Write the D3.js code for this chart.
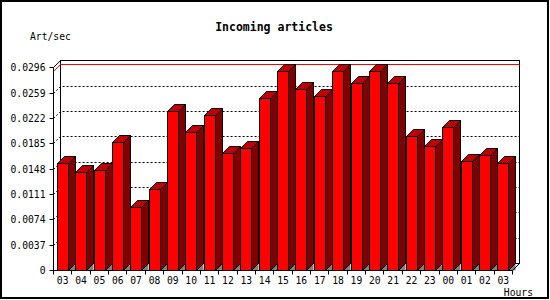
<!DOCTYPE html>
<html><head><meta charset="utf-8">
<script src="https://cdn.jsdelivr.net/npm/d3@7"></script>
<style>body{margin:0;background:#fff;} svg{display:block;}</style>
</head><body>
<svg id="c" width="550" height="300"></svg>
<script>
const hours = ["03","04","05","06","07","08","09","10","11","12","13","14","15","16","17","18","19","20","21","22","23","00","01","02","03"];
const values = [0.0156,0.0143,0.0146,0.0187,0.0092,0.0119,0.0232,0.0201,0.0226,0.0171,0.0178,0.0251,0.0291,0.0264,0.0254,0.0291,0.0273,0.0291,0.0273,0.0195,0.0181,0.0209,0.0159,0.0168,0.0156];
const yTickValues = [0,0.0037,0.0074,0.0111,0.0148,0.0185,0.0222,0.0259,0.0296];
const yTickLabels = ["0","0.0037","0.0074","0.0111","0.0148","0.0185","0.0222","0.0259","0.0296"];
const title = "Incoming articles";
const yTitle = "Art/sec";
const xTitle = "Hours";

const svg = d3.select("#c");
const mono = "'DejaVu Sans Mono', 'Liberation Mono', monospace";
const DX = 7, DY = 7;
const y = d3.scaleLinear().domain([0, 0.0296]).range([270, 67.3]);
const x = d3.scaleBand().domain(d3.range(hours.length)).range([53.5, 512.5]).padding(0);
const py = v => Math.round(y(v)) + 0.5;
const leftX = 53.5, rightX = 512.5, baseY = py(0), topY = py(0.0296);

// outer frame
svg.append("rect").attr("x",1).attr("y",1).attr("width",547).attr("height",297)
  .attr("fill","#fff").attr("stroke","#000").attr("stroke-width",2);

// back wall
svg.append("rect").attr("x",leftX+DX).attr("y",topY-DY).attr("width",rightX-leftX)
  .attr("height",baseY-topY).attr("fill","#fff").attr("stroke","#000");

// dotted grid
const grid = svg.append("g").attr("stroke","#000").attr("stroke-dasharray","2,2").attr("fill","none");
yTickValues.slice(1,-1).forEach(v=>{
  const fy = py(v);
  grid.append("path").attr("d",`M${leftX},${fy}L${leftX+DX},${fy-DY}L${rightX+DX},${fy-DY}`);
});

// max line
const mx = py(d3.max(values));
svg.append("path").attr("d",`M${leftX},${mx}L${leftX+DX},${mx-DY}L${rightX+DX},${mx-DY}`)
  .attr("stroke","#f00").attr("fill","none");

// bars
const bars = svg.append("g").attr("stroke","#000").attr("stroke-width",1);
values.forEach((v,i)=>{
  const x0 = Math.round(x(i)+3.3)+0.5, x1 = x0+11;
  const yf = py(v);
  const g = bars.append("g");
  g.append("path").attr("d",`M${x1},${baseY}L${x1+DX},${baseY-DY}L${x1+DX},${baseY}Z`).attr("fill","#808080").attr("stroke","none");
  g.append("path").attr("d",`M${x1},${yf}L${x1+DX},${yf-DY}L${x1+DX},${baseY-DY}L${x1},${baseY}Z`).attr("fill","#800000");
  g.append("path").attr("d",`M${x0},${yf}L${x0+DX},${yf-DY}L${x1+DX},${yf-DY}L${x1},${yf}Z`).attr("fill","#c00000");
  g.append("rect").attr("x",x0).attr("y",yf).attr("width",x1-x0).attr("height",baseY-yf).attr("fill","#f00");
});

// front axis lines
svg.append("path").attr("d",`M${leftX+DX},${topY-DY}L${leftX},${topY}L${leftX},${baseY}L${rightX},${baseY}L${rightX+DX},${baseY-DY}`)
  .attr("stroke","#000").attr("fill","none");

// y axis ticks/labels
const yAxis = d3.axisLeft(y).tickValues(yTickValues).tickSize(4).tickSizeOuter(0).tickPadding(4)
  .tickFormat((d,i)=>yTickLabels[i]).offset(0.5);
const ya = svg.append("g").attr("transform",`translate(${leftX},0)`).call(yAxis);
ya.select(".domain").remove();
ya.selectAll(".tick").attr("transform",d=>`translate(0,${py(d)})`);
ya.selectAll("text").attr("font-family",mono).attr("font-size","9.7px").attr("fill","#000").attr("dy","0.36em");
ya.selectAll("line").attr("stroke","#000");

// x ticks at band boundaries
const xt = svg.append("g").attr("stroke","#000");
d3.range(hours.length+1).forEach(i=>{
  const xx = Math.round(leftX + i*x.step()-0.5)+0.5;
  xt.append("line").attr("x1",xx).attr("x2",xx).attr("y1",baseY).attr("y2",baseY+4);
});
svg.append("g").selectAll("text").data(hours).join("text")
  .attr("x",(d,i)=>x(i)+x.bandwidth()/2).attr("y",283.5)
  .attr("text-anchor","middle").attr("font-family",mono).attr("font-size","9.7px").text(d=>d);

// titles
svg.append("text").attr("x",274).attr("y",31).attr("text-anchor","middle")
  .attr("font-family",mono).attr("font-weight","bold").attr("font-size","11.5px").text(title);
svg.append("text").attr("x",30).attr("y",40).attr("font-family",mono).attr("font-size","9.7px").text(yTitle);
svg.append("text").attr("x",533).attr("y",295.5).attr("text-anchor","end").attr("font-family",mono).attr("font-size","9.7px").text(xTitle);
</script>
</body></html>
